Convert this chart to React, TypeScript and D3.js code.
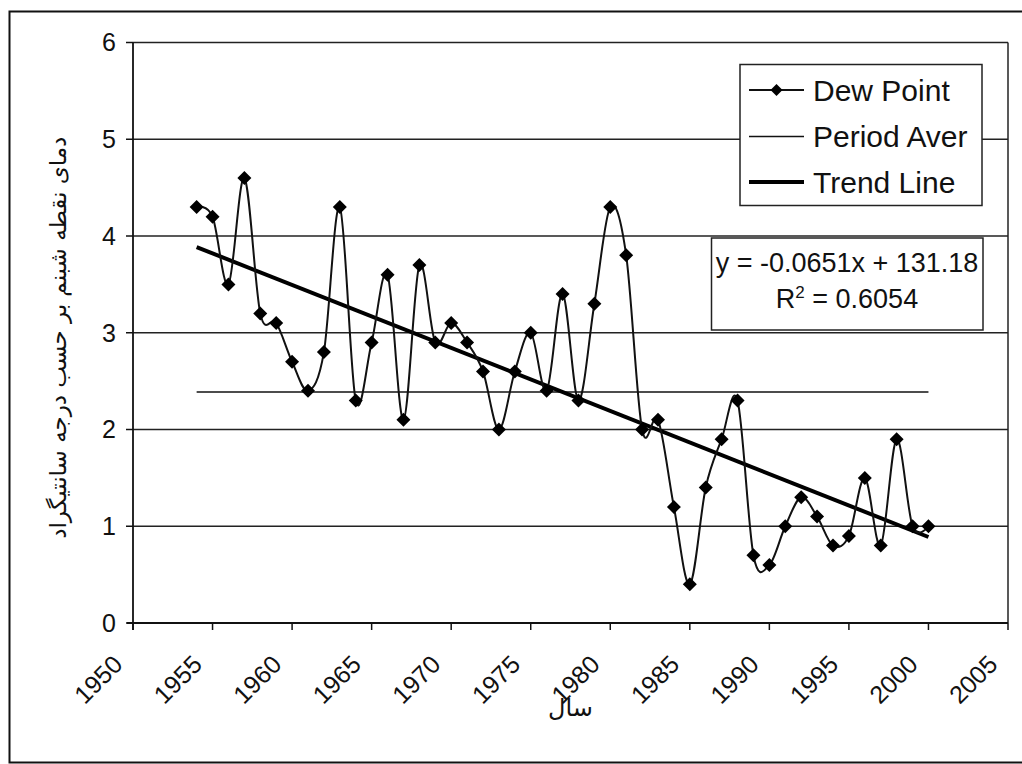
import React from "react";
import * as d3 from "d3";

const years = [
  1954, 1955, 1956, 1957, 1958, 1959, 1960, 1961, 1962, 1963,
  1964, 1965, 1966, 1967, 1968, 1969, 1970, 1971, 1972, 1973,
  1974, 1975, 1976, 1977, 1978, 1979, 1980, 1981, 1982, 1983,
  1984, 1985, 1986, 1987, 1988, 1989, 1990, 1991, 1992, 1993,
  1994, 1995, 1996, 1997, 1998, 1999, 2000,
];
const dewPoint = [
  4.3, 4.2, 3.5, 4.6, 3.2, 3.1, 2.7, 2.4, 2.8, 4.3,
  2.3, 2.9, 3.6, 2.1, 3.7, 2.9, 3.1, 2.9, 2.6, 2.0,
  2.6, 3.0, 2.4, 3.4, 2.3, 3.3, 4.3, 3.8, 2.0, 2.1,
  1.2, 0.4, 1.4, 1.9, 2.3, 0.7, 0.6, 1.0, 1.3, 1.1,
  0.8, 0.9, 1.5, 0.8, 1.9, 1.0, 1.0,
];
const xTicks = [1950, 1955, 1960, 1965, 1970, 1975, 1980, 1985, 1990, 1995, 2000, 2005];
const yTicks = [0, 1, 2, 3, 4, 5, 6];
const legendLabels = ["Dew Point", "Period Average", "Trend Line"];
const equationLine = "y = -0.0651x + 131.18";
const r2Value = "0.6054";
const xTitle = "سال";
const yTitle = "دمای نقطه شبنم بر حسب درجه سانتیگراد";

const W = 1022;
const H = 764;
const L = 133;
const R = 1008;
const T = 42.5;
const B = 623;
const FONT = "'Liberation Sans', Arial, Helvetica, sans-serif";
const AR_FONT = "'DejaVu Sans', 'Noto Sans', sans-serif";

export default function App() {
  const x = d3.scaleLinear().domain([1950, 2005]).range([L, R]);
  const y = d3.scaleLinear().domain([0, 6]).range([B, T]);

  const pts: [number, number][] = years.map((yr, i) => [yr, dewPoint[i]]);
  const line = d3
    .line<[number, number]>()
    .x((d) => x(d[0]))
    .y((d) => y(d[1]))
    .curve(d3.curveCardinal.tension(0));

  const avg = d3.mean(dewPoint) as number;
  const mx = d3.mean(years) as number;
  const my = avg;
  let num = 0;
  let den = 0;
  years.forEach((yr, i) => {
    num += (yr - mx) * (dewPoint[i] - my);
    den += (yr - mx) * (yr - mx);
  });
  const slope = num / den;
  const icpt = my - slope * mx;
  const x0 = years[0];
  const x1 = years[years.length - 1];

  const diamond = (cx: number, cy: number, r: number) =>
    `M${cx},${cy - r}L${cx + r},${cy}L${cx},${cy + r}L${cx - r},${cy}Z`;

  const legX = 740;
  const legY = 64.5;
  const legW = 242;
  const legH = 141;
  const rowY = [90, 136.5, 182];

  return (
    <svg
      width={W}
      height={H}
      style={{ position: "absolute", left: 0, top: 0, background: "#fff" }}
      fontFamily={FONT}
    >
      <rect x={0} y={0} width={W} height={H} fill="#fff" />
      <rect x={9.5} y={11.5} width={1030} height={751} fill="none" stroke="#111" strokeWidth={2} />

      {/* gridlines */}
      {yTicks.map((t) => (
        <line key={"g" + t} x1={L} x2={R} y1={y(t)} y2={y(t)} stroke="#222" strokeWidth={1.3} />
      ))}
      {/* plot border */}
      <line x1={R} x2={R} y1={T} y2={B} stroke="#222" strokeWidth={1.5} />
      {/* axes */}
      <line x1={L} x2={L} y1={T} y2={B + 7} stroke="#111" strokeWidth={1.8} />
      <line x1={L - 6} x2={R} y1={B} y2={B} stroke="#111" strokeWidth={2} />
      {yTicks.map((t) => (
        <g key={"yt" + t}>
          <line x1={L - 7} x2={L} y1={y(t)} y2={y(t)} stroke="#111" strokeWidth={1.5} />
          <text x={L - 17} y={y(t) + 8.8} textAnchor="end" fontSize={25} fill="#111">
            {t}
          </text>
        </g>
      ))}
      {xTicks.map((t) => (
        <g key={"xt" + t}>
          <line x1={x(t)} x2={x(t)} y1={B} y2={B + 7} stroke="#111" strokeWidth={1.5} />
          <text
            transform={`translate(${x(t) - 9},${B + 43}) rotate(-45)`}
            textAnchor="end"
            fontSize={25}
            fill="#111"
          >
            {t}
          </text>
        </g>
      ))}

      {/* period average */}
      <line x1={x(x0)} x2={x(x1)} y1={y(avg)} y2={y(avg)} stroke="#111" strokeWidth={1.6} />
      {/* trend line */}
      <line
        x1={x(x0)}
        x2={x(x1)}
        y1={y(icpt + slope * x0)}
        y2={y(icpt + slope * x1)}
        stroke="#000"
        strokeWidth={4}
      />
      {/* dew point */}
      <path d={line(pts) || ""} fill="none" stroke="#111" strokeWidth={2} />
      {pts.map((p, i) => (
        <path key={"m" + i} d={diamond(x(p[0]), y(p[1]), 7)} fill="#000" />
      ))}

      {/* legend */}
      <defs>
        <clipPath id="legClip">
          <rect x={legX} y={legY} width={228} height={legH} />
        </clipPath>
      </defs>
      <rect x={legX} y={legY} width={legW} height={legH} fill="#fff" stroke="#222" strokeWidth={1.5} />
      <line x1={749} x2={804} y1={rowY[0]} y2={rowY[0]} stroke="#111" strokeWidth={1.8} />
      <path d={diamond(776.5, rowY[0], 6)} fill="#000" />
      <line x1={749} x2={804} y1={rowY[1]} y2={rowY[1]} stroke="#111" strokeWidth={1.5} />
      <line x1={749} x2={804} y1={rowY[2]} y2={rowY[2]} stroke="#000" strokeWidth={4} />
      <g clipPath="url(#legClip)">
        {legendLabels.map((lab, i) => (
          <text key={lab} x={813} y={rowY[i] + 10.5} fontSize={30} fill="#111">
            {lab}
          </text>
        ))}
      </g>

      {/* equation box */}
      <rect x={711.5} y={238} width={271.5} height={92} fill="#fff" stroke="#222" strokeWidth={1.5} />
      <text x={847} y={271.5} textAnchor="middle" fontSize={27} fill="#111">
        {equationLine}
      </text>
      <text x={847} y={308} textAnchor="middle" fontSize={27} fill="#111">
        R<tspan dy={-10} fontSize={17}>2</tspan>
        <tspan dy={10}>{" = " + r2Value}</tspan>
      </text>

      {/* axis titles */}
      <text x={(L + R) / 2} y={716} textAnchor="middle" fontSize={24} fontFamily={AR_FONT} fill="#111">
        {xTitle}
      </text>
      <text
        transform={`translate(66,${(T + B) / 2 + 5}) rotate(-90)`}
        textAnchor="middle"
        fontSize={23}
        fontFamily={AR_FONT}
        fill="#111"
      >
        {yTitle}
      </text>
    </svg>
  );
}
